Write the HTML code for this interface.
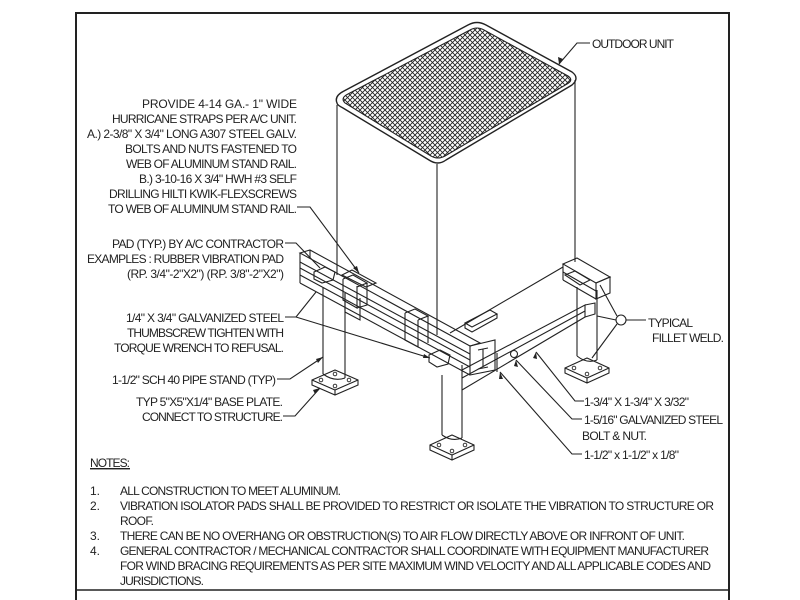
<!DOCTYPE html>
<html><head><meta charset="utf-8"><style>
html,body{margin:0;padding:0;background:#fff}
svg{display:block}
text{font-family:"Liberation Sans Narrow","Liberation Sans",sans-serif;font-size:12px;fill:#222}
</style></head><body>
<svg width="800" height="600" viewBox="0 0 800 600" xmlns="http://www.w3.org/2000/svg">
<defs>
<pattern id="mesh" width="5" height="5" patternUnits="userSpaceOnUse">
<path d="M0 0L5 5M5 0L0 5" stroke="#222" stroke-width="0.9"/>
</pattern>
<clipPath id="gr"><path d="M345 103 Q340 98 348 94 L470 30 Q477 26 484 30 L568 76 Q574 80 567 84 L445 156 Q438 160 431 156 Z"/></clipPath>
</defs>
<rect x="76" y="13" width="653" height="600" fill="none" stroke="#222" stroke-width="2"/>
<line x1="76" y1="590" x2="729" y2="590" stroke="#222" stroke-width="1.5"/>
<g fill="none" stroke="#222" stroke-width="1.1">
<!-- unit -->
<path d="M337 103 Q334 96 344 91 L468 25 Q477 20 486 25 L572 72 Q580 78 572 85 L446 160 Q438 166 429 160 L343 108 Q337 105 337 103 Z" stroke-width="1.4"/>
<rect x="330" y="20" width="260" height="150" fill="url(#mesh)" clip-path="url(#gr)" stroke="none"/>
<path d="M345 103 Q340 98 348 94 L470 30 Q477 26 484 30 L568 76 Q574 80 567 84 L445 156 Q438 160 431 156 Z"/>
<line x1="337" y1="105" x2="337" y2="275"/>
<line x1="437" y1="164" x2="437" y2="335"/>
<line x1="575" y1="80" x2="575" y2="262"/>
<line x1="450" y1="333" x2="563" y2="267"/>
<!-- left rail -->
<path d="M300 253 L310 250 L480 343 L470 346 Z"/>
<line x1="300" y1="253" x2="300" y2="283"/>
<line x1="300" y1="262" x2="470" y2="354"/>
<line x1="300" y1="268" x2="470" y2="360"/>
<line x1="300" y1="275" x2="470" y2="367"/>
<line x1="300" y1="283" x2="470" y2="375"/>
<line x1="310" y1="250" x2="310" y2="258"/>
<path d="M470 346 L495 340 L495 370 L470 375 Z"/>
<path d="M478 350 L488 348 M483 349 L483 367 M478 369 L488 367"/>
<!-- pads on rail -->
<path d="M343 279 L343 300 L357 308 L357 286 M343 279 L353 275 L367 283 L357 287 M367 283 L367 305 L357 308"/>
<path d="M405 313 L405 340 L418 347 L418 320 M405 313 L415 309 L428 316 L418 320 M428 316 L428 343"/>
<path d="M342 275 L352 270 L376 283 L366 287 Z"/>
<!-- pads top left -->
<path d="M314 272 L325 267 L335 272 L333 280 L322 283 L314 279 Z"/>
<path d="M429 355 L440 350 L450 355 L448 364 L437 367 L429 362 Z"/>
<!-- right short rail -->
<path d="M563 264 L577 258 L610 277 L596 283 Z"/>
<line x1="563" y1="264" x2="563" y2="280"/>
<line x1="563" y1="272" x2="596" y2="291"/>
<line x1="563" y1="280" x2="596" y2="299"/>
<path d="M596 283 L610 277 L610 293 L596 299 Z"/>
<path d="M565 275 L575 271 L590 280 L580 285 Z"/>
<!-- small pad -->
<path d="M465 323 L490 310 L497 314 L472 327 Z M465 323 L465 328 L472 332 L497 318 L497 314"/>
<!-- legs -->
<path d="M323 287 L323 374 M345 293 L345 378"/>
<path d="M323 374 Q334 382 345 378"/>
<path d="M345 293 L345 312 L360 320 L360 298"/>
<path d="M442 375 L442 435 M462 365 L462 438 M442 435 Q452 442 462 438"/>
<path d="M577 287 L577 356 M597 290 L597 360 M577 356 Q587 364 597 360"/>
<!-- base plates -->
<path d="M312 380 L335 370 L358 380 L358 385 L335 395 L312 385 Z M312 380 L335 390 L358 380 M335 390 L335 395"/>
<path d="M430 445 L452 435 L474 445 L474 450 L452 460 L430 450 Z M430 445 L452 455 L474 445 M452 455 L452 460"/>
<path d="M565 368 L587 358 L609 368 L609 373 L587 383 L565 373 Z M565 368 L587 378 L609 368 M587 378 L587 383"/>
<g stroke-width="0.9"><circle cx="321" cy="380" r="1.8"/><circle cx="349" cy="380" r="1.8"/><circle cx="335" cy="386" r="1.8"/><circle cx="335" cy="374" r="1.8"/>
<circle cx="439" cy="445" r="1.8"/><circle cx="465" cy="445" r="1.8"/><circle cx="452" cy="451" r="1.8"/>
<circle cx="574" cy="368" r="1.8"/><circle cx="600" cy="368" r="1.8"/><circle cx="587" cy="374" r="1.8"/></g>
<!-- front cross beam -->
<path d="M462 370 L585 305 L585 317 L462 390"/>
<path d="M585 305 L595 303 L595 314 L585 317"/>
<line x1="462" y1="378" x2="585" y2="311"/>
<line x1="497" y1="353" x2="497" y2="372"/>
<circle cx="514" cy="354" r="3.5"/>
<line x1="597" y1="316" x2="616" y2="320"/>
<!-- leaders -->
<path d="M590 43 L577 43 L559 64"/>
<path d="M297 207 L310 207 L359 273"/>
<path d="M285 243 L296 243 L320 268"/>
<path d="M285 317 L296 317 L430 358"/>
<path d="M296 317 L316 292"/>
<path d="M277 379 L290 379 L323 357"/>
<path d="M283 416 L295 416 L320 388"/>
<circle cx="621" cy="320" r="5"/>
<path d="M626 320 L646 320"/>
<path d="M617 316 L600 285 M617 324 L592 358"/>
<path d="M584 401 L575 401 L536 352"/>
<path d="M582 419 L572 419 L516 360"/>
<path d="M582 454 L572 454 L500 372"/>
</g>
<g fill="#222">
<path d="M559 64 L558 57 L563 59 Z"/>
<path d="M359 273 L353 268 L357 266 Z"/>
<path d="M430 358 L423 358 L424 354 Z"/>
<path d="M323 357 L318 363 L316 359 Z"/>
<path d="M320 388 L315 394 L313 390 Z"/>
<path d="M536 352 L537 359 L533 358 Z"/>
<path d="M516 360 L518 367 L514 366 Z"/>
<path d="M500 372 L503 379 L499 379 Z"/>
</g>
<g text-anchor="end">
<text x="297" y="108" textLength="155">PROVIDE 4-14 GA.- 1" WIDE</text>
<text x="297" y="123" textLength="185">HURRICANE STRAPS PER A/C UNIT.</text>
<text x="297" y="138" textLength="210">A.) 2-3/8" X 3/4" LONG A307 STEEL GALV.</text>
<text x="297" y="153" textLength="172">BOLTS AND NUTS FASTENED TO</text>
<text x="297" y="168" textLength="171">WEB OF ALUMINUM STAND RAIL.</text>
<text x="297" y="183" textLength="158">B.) 3-10-16 X 3/4" HWH #3 SELF</text>
<text x="297" y="198" textLength="188">DRILLING HILTI KWIK-FLEXSCREWS</text>
<text x="297" y="213" textLength="189">TO WEB OF ALUMINUM STAND RAIL.</text>
<text x="284" y="248" textLength="172">PAD (TYP.) BY A/C CONTRACTOR</text>
<text x="284" y="263" textLength="197">EXAMPLES : RUBBER VIBRATION PAD</text>
<text x="284" y="278" textLength="157">(RP. 3/4"-2"X2") (RP. 3/8"-2"X2")</text>
<text x="284" y="322" textLength="158">1/4" X 3/4" GALVANIZED STEEL</text>
<text x="284" y="337" textLength="157">THUMBSCREW TIGHTEN WITH</text>
<text x="284" y="352" textLength="170">TORQUE WRENCH TO REFUSAL.</text>
<text x="276" y="384" textLength="164">1-1/2" SCH 40 PIPE STAND (TYP)</text>
<text x="283" y="406" textLength="147">TYP 5"X5"X1/4" BASE PLATE.</text>
<text x="283" y="421" textLength="141">CONNECT TO STRUCTURE.</text>
</g>
<text x="592" y="48" textLength="82">OUTDOOR UNIT</text>
<text x="648" y="327" textLength="45">TYPICAL</text>
<text x="652" y="342" textLength="72">FILLET WELD.</text>
<text x="584" y="406" textLength="105">1-3/4" X 1-3/4" X 3/32"</text>
<text x="584" y="424" textLength="139">1-5/16" GALVANIZED STEEL</text>
<text x="582" y="440" textLength="65">BOLT &amp; NUT.</text>
<text x="584" y="459" textLength="95">1-1/2" x 1-1/2" x 1/8"</text>
<text x="90" y="467" textLength="40" text-decoration="underline">NOTES:</text>
<line x1="90" y1="469" x2="130" y2="469" stroke="#222" stroke-width="0.8"/>
<text x="90" y="495">1.</text>
<text x="90" y="510">2.</text>
<text x="90" y="540">3.</text>
<text x="90" y="555">4.</text>
<text x="120" y="495" textLength="221">ALL CONSTRUCTION TO MEET ALUMINUM.</text>
<text x="120" y="510" textLength="594">VIBRATION ISOLATOR PADS SHALL BE PROVIDED TO RESTRICT OR ISOLATE THE VIBRATION TO STRUCTURE OR</text>
<text x="120" y="525" textLength="34">ROOF.</text>
<text x="120" y="540" textLength="565">THERE CAN BE NO OVERHANG OR OBSTRUCTION(S) TO AIR FLOW DIRECTLY ABOVE OR INFRONT OF UNIT.</text>
<text x="120" y="555" textLength="589">GENERAL CONTRACTOR / MECHANICAL CONTRACTOR SHALL COORDINATE WITH EQUIPMENT MANUFACTURER</text>
<text x="120" y="570" textLength="591">FOR WIND BRACING REQUIREMENTS AS PER SITE MAXIMUM WIND VELOCITY AND ALL APPLICABLE CODES AND</text>
<text x="120" y="585" textLength="84">JURISDICTIONS.</text>
</svg>
</body></html>
